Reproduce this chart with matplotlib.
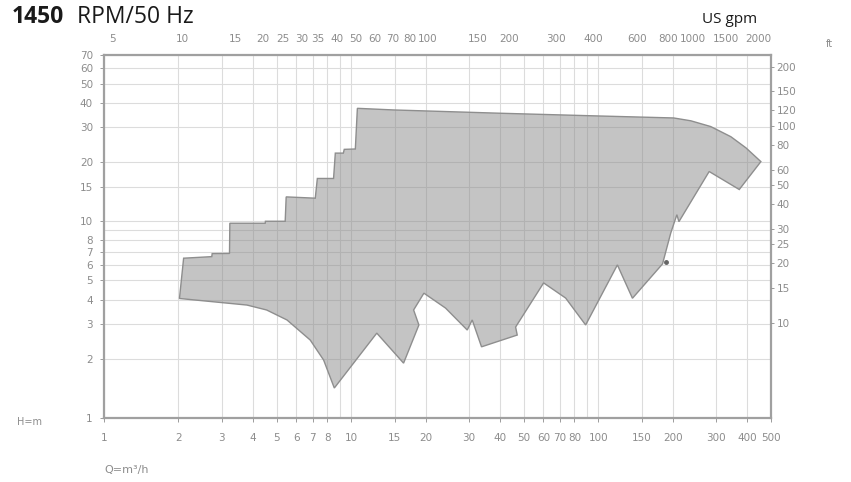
import matplotlib.pyplot as plt
from matplotlib.ticker import NullLocator, NullFormatter

# operating range outline, Q in m3/h, H in m
q_range = [2.02, 3.79, 4.55, 5.50, 6.83, 7.74, 8.55, 12.7, 16.3, 18.8, 17.9, 19.7,
           24.1, 29.5, 30.9, 33.7, 47.0, 46.3, 60.1, 73.8, 88.9, 119.5, 137.5, 182,
           196.5, 208, 212, 281, 372, 455, 396, 344, 285, 237, 202, 99.5, 40.2, 14.8,
           10.6, 10.4, 9.38, 9.30, 8.63, 8.49, 7.30, 7.16, 5.46, 5.41, 4.50, 4.49,
           3.23, 3.22, 2.74, 2.73, 2.10]
h_range = [4.05, 3.75, 3.54, 3.15, 2.49, 1.97, 1.42, 2.70, 1.90, 2.97, 3.54, 4.31,
           3.62, 2.80, 3.15, 2.30, 2.64, 2.90, 4.86, 4.07, 2.97, 6.00, 4.06, 6.07,
           8.72, 10.8, 9.95, 17.9, 14.5, 20.1, 23.6, 26.9, 30.3, 32.4, 33.5, 34.3,
           35.4, 36.8, 37.5, 23.3, 23.2, 22.2, 22.2, 16.5, 16.5, 13.1, 13.3, 10.0,
           10.0, 9.77, 9.77, 6.86, 6.85, 6.61, 6.49]

# bottom axis (m3/h)
q_ticks = [1, 2, 3, 4, 5, 6, 7, 8, 10, 15, 20, 30, 40, 50, 60, 70, 80, 100, 150, 200, 300, 400, 500]
q_grid = [1, 2, 3, 4, 5, 6, 7, 8, 9, 10, 15, 20, 30, 40, 50, 60, 70, 80, 90, 100, 150, 200, 300, 400, 500]
# left axis (m)
h_ticks = [1, 2, 3, 4, 5, 6, 7, 8, 10, 15, 20, 30, 40, 50, 60, 70]
h_grid = [1, 2, 3, 4, 5, 6, 7, 8, 9, 10, 15, 20, 30, 40, 50, 60, 70]
# top axis (US gpm) - labels and where they sit on the Q scale
gpm_labels = ['5', '10', '15', '20', '25', '30', '35', '40', '50', '60', '70', '80', '100',
              '150', '200', '300', '400', '600', '800', '1000', '1500', '2000']
gpm_at_q = [1.08, 2.07, 3.40, 4.41, 5.31, 6.34, 7.36, 8.80, 10.4, 12.5, 14.7, 17.2, 20.4,
            32.5, 43.4, 67.2, 95.8, 144, 191, 241, 328, 443]
# right axis (ft) - labels and where they sit on the H scale
ft_labels = ['200', '150', '120', '100', '80', '60', '50', '40', '30', '25', '20', '15', '10']
ft_at_h = [60.96, 45.72, 36.58, 30.48, 24.38, 18.29, 15.24, 12.19, 9.14, 7.62, 6.10, 4.57, 3.05]

dot_q = [187.6]
dot_h = [6.23]

tick_grey = '#8c8c8c'
grid_grey = '#dcdcdc'

fig = plt.figure(figsize=(8.51, 4.82), dpi=100)
ax = fig.add_axes([0.1222, 0.1328, 0.7838, 0.7531])
ax.set_xscale('log')
ax.set_yscale('log')
ax.set_xlim(1, 500)
ax.set_ylim(1, 70)

for q in q_grid:
    ax.axvline(q, color=grid_grey, lw=0.8, zorder=1)
for h in h_grid:
    ax.axhline(h, color=grid_grey, lw=0.8, zorder=1)

ax.fill(q_range, h_range, facecolor='#8a8a8a', alpha=0.5, edgecolor='none', zorder=2)
ax.fill(q_range, h_range, facecolor='none', edgecolor='#8e8e8e', lw=1.0, zorder=3)
ax.plot(dot_q, dot_h, 'o', color='#666666', ms=2.5, zorder=4)

ax.set_xticks(q_ticks)
ax.set_xticklabels([str(v) for v in q_ticks])
ax.set_yticks(h_ticks)
ax.set_yticklabels([str(v) for v in h_ticks])
ax.xaxis.set_minor_locator(NullLocator())
ax.yaxis.set_minor_locator(NullLocator())
ax.xaxis.set_minor_formatter(NullFormatter())
ax.yaxis.set_minor_formatter(NullFormatter())
ax.tick_params(axis='x', colors=tick_grey, labelsize=7.5, length=3, pad=8, width=0.6)
ax.tick_params(axis='y', colors=tick_grey, labelsize=7.5, length=3, pad=5, width=0.6)
for s in ax.spines.values():
    s.set_color('#a0a0a0')
    s.set_linewidth(1.6)

# top axis, US gpm
axt = ax.twiny()
axt.set_xscale('log')
axt.set_xlim(1, 500)
axt.set_xticks(gpm_at_q)
axt.set_xticklabels(gpm_labels)
axt.xaxis.set_minor_locator(NullLocator())
axt.xaxis.set_minor_formatter(NullFormatter())
axt.tick_params(axis='x', colors=tick_grey, labelsize=7.5, length=0, pad=8)
for s in axt.spines.values():
    s.set_visible(False)

# right axis, ft
axr = ax.twinx()
axr.set_yscale('log')
axr.set_ylim(1, 70)
axr.set_yticks(ft_at_h)
axr.set_yticklabels(ft_labels)
axr.yaxis.set_minor_locator(NullLocator())
axr.yaxis.set_minor_formatter(NullFormatter())
axr.tick_params(axis='y', colors=tick_grey, labelsize=7.5, length=2, pad=2, width=0.6)
for s in axr.spines.values():
    s.set_visible(False)

fig.text(0.014, 0.99, '1450', fontsize=16.5, fontweight='bold', family='Open Sans',
         color='#1a1a1a', va='top', ha='left')
fig.text(0.091, 0.99, 'RPM/50 Hz', fontsize=16.5, family='Open Sans',
         color='#1a1a1a', va='top', ha='left')
fig.text(0.825, 0.975, 'US gpm', fontsize=11, family='Open Sans',
         color='#1a1a1a', va='top', ha='left')
fig.text(0.975, 0.908, 'ft', fontsize=7, color=tick_grey, ha='center', va='center')
fig.text(0.035, 0.125, 'H=m', fontsize=7, color=tick_grey, ha='center', va='center')
fig.text(0.123, 0.025, 'Q=m³/h', fontsize=8, color=tick_grey, ha='left', va='center')

fig.savefig('out.png', dpi=100)
